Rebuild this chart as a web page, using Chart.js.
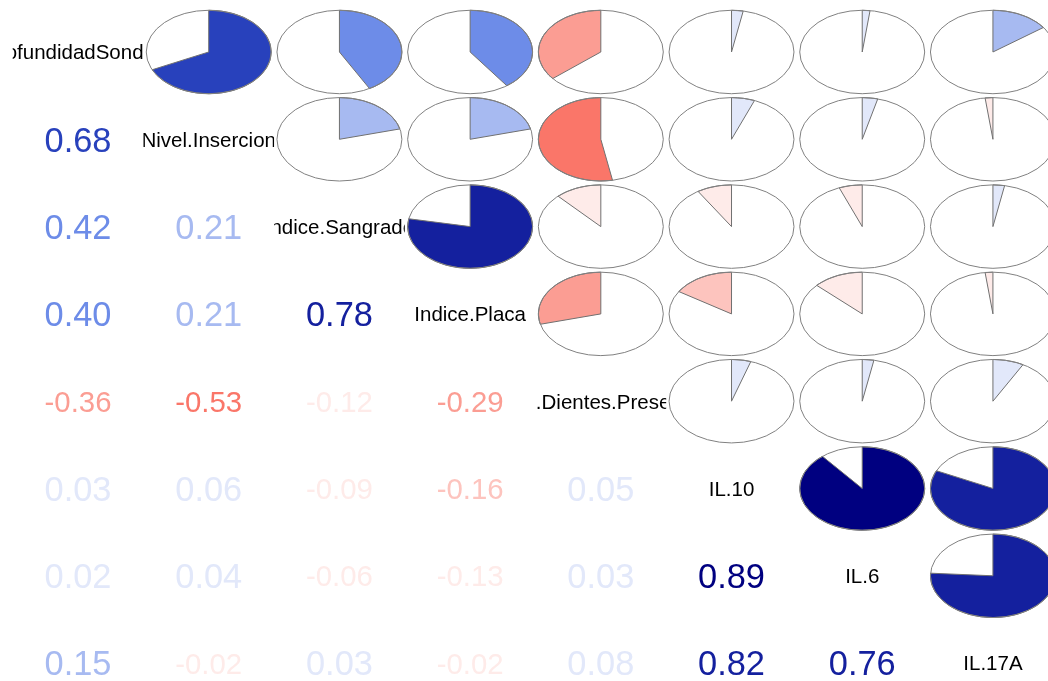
<!DOCTYPE html>
<html>
<head>
<meta charset="utf-8">
<script src="https://cdn.jsdelivr.net/npm/chart.js@4.4.1/dist/chart.umd.min.js"></script>
<style>
html, body { margin: 0; padding: 0; background: #ffffff; }
#wrap { width: 1048px; height: 681px; position: relative; }
</style>
</head>
<body>
<div id="wrap"><canvas id="corrChart"></canvas></div>
<script>
// variables on the diagonal
var variables = ['ProfundidadSondaje', 'Nivel.Insercion', 'Indice.Sangrado', 'Indice.Placa',
                 'Num.Dientes.Presentes', 'IL.10', 'IL.6', 'IL.17A'];

// lower triangle, one row per variable (correlation with the previous variables)
var corrNivel    = [0.68];
var corrSangrado = [0.42, 0.21];
var corrPlaca    = [0.40, 0.21, 0.78];
var corrDientes  = [-0.36, -0.53, -0.12, -0.29];
var corrIL10     = [0.03, 0.06, -0.09, -0.16, 0.05];
var corrIL6      = [0.02, 0.04, -0.06, -0.13, 0.03, 0.89];
var corrIL17A    = [0.15, -0.02, 0.03, -0.02, 0.08, 0.82, 0.76];

var lowerRows = [[], corrNivel, corrSangrado, corrPlaca, corrDientes, corrIL10, corrIL6, corrIL17A];

function corrValue(i, j) {
    return i > j ? lowerRows[i][j] : lowerRows[j][i];
}

// corrgram palette: red, salmon, white, royalblue, navy cut in 14 colours
var rampStops = [[255, 0, 0], [250, 128, 114], [255, 255, 255], [65, 105, 225], [0, 0, 128]];
function corrColor(r) {
    var ncol = 14;
    var idx = Math.floor((r + 1) / (2 / ncol));
    if (idx >= ncol) idx = ncol - 1;
    if (idx < 0) idx = 0;
    var t = idx / (ncol - 1) * (rampStops.length - 1);
    var k = Math.min(Math.floor(t), rampStops.length - 2);
    var f = t - k;
    var a = rampStops[k], b = rampStops[k + 1];
    var c = [0, 1, 2].map(function(n) { return Math.round(a[n] + (b[n] - a[n]) * f); });
    return 'rgb(' + c[0] + ',' + c[1] + ',' + c[2] + ')';
}

// one point per panel
var cells = [];
for (var i = 0; i < variables.length; i++) {
    for (var j = 0; j < variables.length; j++) {
        cells.push({ x: j, y: i, r: i === j ? null : corrValue(i, j) });
    }
}

var fontFamily = '"Liberation Sans", Arial, Helvetica, sans-serif';

var corrgramPlugin = {
    id: 'corrgram',
    afterDatasetsDraw: function(chart) {
        var ctx = chart.ctx;
        var xs = chart.scales.x, ys = chart.scales.y;
        var cellW = Math.abs(xs.getPixelForValue(1) - xs.getPixelForValue(0));
        var cellH = Math.abs(ys.getPixelForValue(1) - ys.getPixelForValue(0));
        var meta = chart.getDatasetMeta(0);

        meta.data.forEach(function(pt, k) {
            var cell = cells[k];
            var cx = pt.x, cy = pt.y;
            ctx.save();
            if (cell.x === cell.y) {
                // diagonal: variable name, clipped to its panel
                ctx.beginPath();
                ctx.rect(cx - cellW / 2, cy - cellH / 2, cellW, cellH);
                ctx.clip();
                var fs = 20.5;
                ctx.fillStyle = '#000000';
                ctx.font = fs + 'px ' + fontFamily;
                ctx.textAlign = 'center';
                ctx.textBaseline = 'alphabetic';
                ctx.fillText(variables[cell.x], cx, cy + fs * 0.358);
            } else if (cell.x > cell.y) {
                // upper: pie
                var rx = cellW * 0.478, ry = cellH * 0.478;
                var segs = Math.round(60 * Math.abs(cell.r)) + 1;
                ctx.beginPath();
                ctx.moveTo(cx, cy);
                for (var s = 0; s < segs; s++) {
                    var ang = Math.PI / 2 - 2 * Math.PI * cell.r * (s / (segs - 1));
                    ctx.lineTo(cx + Math.cos(ang) * rx, cy - Math.sin(ang) * ry);
                }
                ctx.closePath();
                ctx.fillStyle = corrColor(cell.r);
                ctx.fill();
                ctx.strokeStyle = '#707070';
                ctx.lineWidth = 1;
                ctx.stroke();

                ctx.beginPath();
                ctx.ellipse(cx, cy, rx, ry, 0, 0, Math.PI * 2);
                ctx.strokeStyle = '#808080';
                ctx.lineWidth = 1;
                ctx.stroke();
            } else {
                // lower: coefficient, scaled to a fixed width
                var txt = cell.r.toFixed(2);
                ctx.font = '100px ' + fontFamily;
                var w = ctx.measureText(txt).width;
                var size = 100 * (cellW * 0.512) / w;
                ctx.font = size.toFixed(2) + 'px ' + fontFamily;
                ctx.fillStyle = corrColor(cell.r);
                ctx.textAlign = 'center';
                ctx.textBaseline = 'alphabetic';
                ctx.fillText(txt, cx, cy + size * 0.358);
            }
            ctx.restore();
        });
    }
};

var ctx = document.getElementById('corrChart').getContext('2d');
var myChart = new Chart(ctx, {
    type: 'scatter',
    data: {
        datasets: [{
            label: 'corrgram',
            data: cells,
            pointRadius: 0,
            pointHoverRadius: 0
        }]
    },
    options: {
        responsive: true,
        maintainAspectRatio: false,
        animation: false,
        layout: { padding: 0 },
        scales: {
            x: { type: 'linear', display: false, min: -0.597, max: 7.4214 },
            y: { type: 'linear', display: false, reverse: true, min: -0.5956, max: 7.2051 }
        },
        plugins: {
            legend: { display: false },
            tooltip: { enabled: false }
        }
    },
    plugins: [corrgramPlugin]
});
</script>
</body>
</html>
